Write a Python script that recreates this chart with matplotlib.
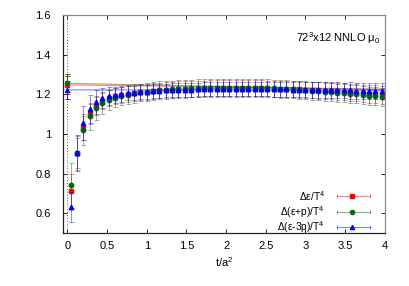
import numpy as np
import matplotlib
matplotlib.use('Agg')
import matplotlib.pyplot as plt

plt.rcParams['font.family'] = ['Liberation Sans', 'DejaVu Sans']
plt.rcParams['mathtext.fontset'] = 'custom'
plt.rcParams['mathtext.rm'] = 'Liberation Sans'
plt.rcParams['mathtext.it'] = 'Liberation Sans'

# flow time t/a^2
t = [0.04, 0.12, 0.20, 0.28, 0.36, 0.44, 0.52, 0.60, 0.68, 0.76,
     0.84, 0.92, 1.00, 1.08, 1.16, 1.24, 1.32, 1.40, 1.48, 1.56,
     1.64, 1.72, 1.80, 1.88, 1.96, 2.04, 2.12, 2.20, 2.28, 2.36,
     2.44, 2.52, 2.60, 2.68, 2.76, 2.84, 2.92, 3.00, 3.08, 3.16,
     3.24, 3.32, 3.40, 3.48, 3.56, 3.64, 3.72, 3.80, 3.88, 3.96]

# delta epsilon / T^4
eps = [0.712, 0.905, 1.030, 1.100, 1.140, 1.165, 1.180, 1.190, 1.195, 1.200,
       1.205, 1.210, 1.213, 1.216, 1.219, 1.221, 1.223, 1.225, 1.226, 1.227,
       1.228, 1.229, 1.230, 1.230, 1.231, 1.231, 1.231, 1.231, 1.231, 1.230,
       1.230, 1.229, 1.228, 1.227, 1.226, 1.225, 1.224, 1.222, 1.221, 1.219,
       1.218, 1.216, 1.214, 1.212, 1.210, 1.208, 1.205, 1.203, 1.200, 1.195]
eps_err = [0.085, 0.075, 0.060, 0.050, 0.045, 0.042, 0.041, 0.040, 0.040, 0.040,
           0.040, 0.040, 0.040, 0.040, 0.040, 0.040, 0.040, 0.040, 0.040, 0.040,
           0.040, 0.040, 0.040, 0.040, 0.040, 0.040, 0.040, 0.040, 0.040, 0.040,
           0.040, 0.040, 0.040, 0.040, 0.040, 0.040, 0.041, 0.041, 0.041, 0.042,
           0.042, 0.042, 0.043, 0.043, 0.043, 0.044, 0.044, 0.045, 0.045, 0.045]

# delta (epsilon + p) / T^4
enth = [0.740, 0.905, 1.022, 1.090, 1.132, 1.157, 1.172, 1.183, 1.191, 1.198,
        1.204, 1.209, 1.213, 1.217, 1.220, 1.222, 1.224, 1.226, 1.228, 1.229,
        1.230, 1.231, 1.232, 1.232, 1.233, 1.233, 1.233, 1.233, 1.232, 1.232,
        1.231, 1.230, 1.229, 1.227, 1.226, 1.224, 1.222, 1.220, 1.218, 1.216,
        1.213, 1.211, 1.208, 1.205, 1.202, 1.199, 1.196, 1.193, 1.190, 1.186]
enth_err = [0.112, 0.085, 0.080, 0.068, 0.060, 0.055, 0.051, 0.049, 0.047, 0.046,
            0.046, 0.045, 0.045, 0.045, 0.045, 0.045, 0.045, 0.045, 0.045, 0.045,
            0.045, 0.045, 0.045, 0.045, 0.045, 0.045, 0.045, 0.045, 0.045, 0.045,
            0.045, 0.045, 0.045, 0.045, 0.045, 0.045, 0.045, 0.045, 0.045, 0.045,
            0.045, 0.045, 0.045, 0.045, 0.045, 0.045, 0.045, 0.045, 0.045, 0.045]

# delta (epsilon - 3p) / T^4
trace = [0.630, 0.905, 1.055, 1.125, 1.160, 1.180, 1.190, 1.196, 1.201, 1.205,
         1.208, 1.211, 1.213, 1.215, 1.217, 1.219, 1.220, 1.221, 1.222, 1.223,
         1.224, 1.225, 1.225, 1.226, 1.226, 1.226, 1.226, 1.226, 1.226, 1.226,
         1.225, 1.225, 1.225, 1.224, 1.224, 1.223, 1.223, 1.222, 1.222, 1.221,
         1.221, 1.220, 1.220, 1.219, 1.219, 1.218, 1.218, 1.217, 1.217, 1.216]
trace_err = [0.075, 0.090, 0.085, 0.072, 0.060, 0.050, 0.045, 0.041, 0.038, 0.036,
             0.035, 0.035, 0.035, 0.035, 0.035, 0.035, 0.035, 0.035, 0.035, 0.035,
             0.035, 0.035, 0.035, 0.035, 0.035, 0.035, 0.035, 0.036, 0.036, 0.036,
             0.036, 0.036, 0.037, 0.037, 0.037, 0.038, 0.038, 0.038, 0.039, 0.039,
             0.039, 0.040, 0.040, 0.040, 0.041, 0.041, 0.041, 0.042, 0.042, 0.042]

# t -> 0 extrapolations (value, error) and fit line end values at t = 4
extrap = {'eps': (1.247, 0.045), 'enth': (1.255, 0.045), 'trace': (1.222, 0.045)}
fit_end = {'eps': 1.226, 'enth': 1.222, 'trace': 1.220}

series = [
    ('eps', eps, eps_err, 'red', 's', r'$\Delta\varepsilon$/T$^4$'),
    ('enth', enth, enth_err, '#007000', 'o', r'$\Delta$($\varepsilon$+p)/T$^4$'),
    ('trace', trace, trace_err, 'blue', '^', r'$\Delta$($\varepsilon$-3p)/T$^4$'),
]

fig = plt.figure(figsize=(4.09, 2.86), dpi=100)
ax = fig.add_axes([0.155, 0.185, 0.786, 0.763])

ax.axvline(0, color='#555555', lw=0.7, ls=(0, (1, 2)))

for key, y, err, col, mk, lab in series:
    v0, e0 = extrap[key]
    ax.plot([0, 4], [v0, fit_end[key]], color=col, lw=0.8, alpha=0.5)
    ax.errorbar([0.0], [v0], yerr=[e0], fmt=mk, color=col, ms=3,
                ecolor=col, elinewidth=0.7, capsize=1.8, capthick=0.7, alpha=0.9)
    ax.errorbar(t, y, yerr=err, fmt='none', ecolor=col, elinewidth=0.7,
                capsize=1.8, capthick=0.7, alpha=0.45)
    ax.plot(t, y, mk, color=col, ms=3.2, mec=col)

# gnuplot-style key
rows = [0.168, 0.098, 0.028]
for (key, y, err, col, mk, lab), ry in zip(series, rows):
    ax.text(0.813, ry, lab, transform=ax.transAxes, ha='right', va='center',
            fontsize=7.3)
    ax.plot([0.851, 0.953], [ry, ry], color=col, lw=0.8, alpha=0.5,
            transform=ax.transAxes, clip_on=False)
    ax.plot([0.851, 0.953], [ry, ry], '|', color=col, ms=3, mew=0.7, alpha=0.5,
            transform=ax.transAxes, clip_on=False)
    ax.plot([0.899], [ry], mk, color=col, ms=3, transform=ax.transAxes,
            clip_on=False)

ax.text(0.986, 0.894, '72$^3$x12 NNLO \u03bc$_0$', transform=ax.transAxes,
        ha='right', va='center', fontsize=8)

ax.set_xlim(-0.05, 4)
ax.set_ylim(0.5, 1.6)
ax.set_xticks([0, 0.5, 1, 1.5, 2, 2.5, 3, 3.5, 4])
ax.set_xticklabels(['0', '0.5', '1', '1.5', '2', '2.5', '3', '3.5', '4'])
ax.set_yticks([0.6, 0.8, 1.0, 1.2, 1.4, 1.6])
ax.set_yticklabels(['0.6', '0.8', '1', '1.2', '1.4', '1.6'])
ax.tick_params(direction='in', top=True, right=True, length=3, width=0.6,
               labelsize=8)
ax.tick_params(axis='y', pad=9)
ax.tick_params(axis='x', pad=6)
for side, sp in ax.spines.items():
    sp.set_color('#222222' if side in ('left', 'bottom') else '#888888')
    sp.set_linewidth(0.9)
ax.set_xlabel('t/a$^2$', fontsize=8, labelpad=3)

fig.savefig('out.png', dpi=100)
